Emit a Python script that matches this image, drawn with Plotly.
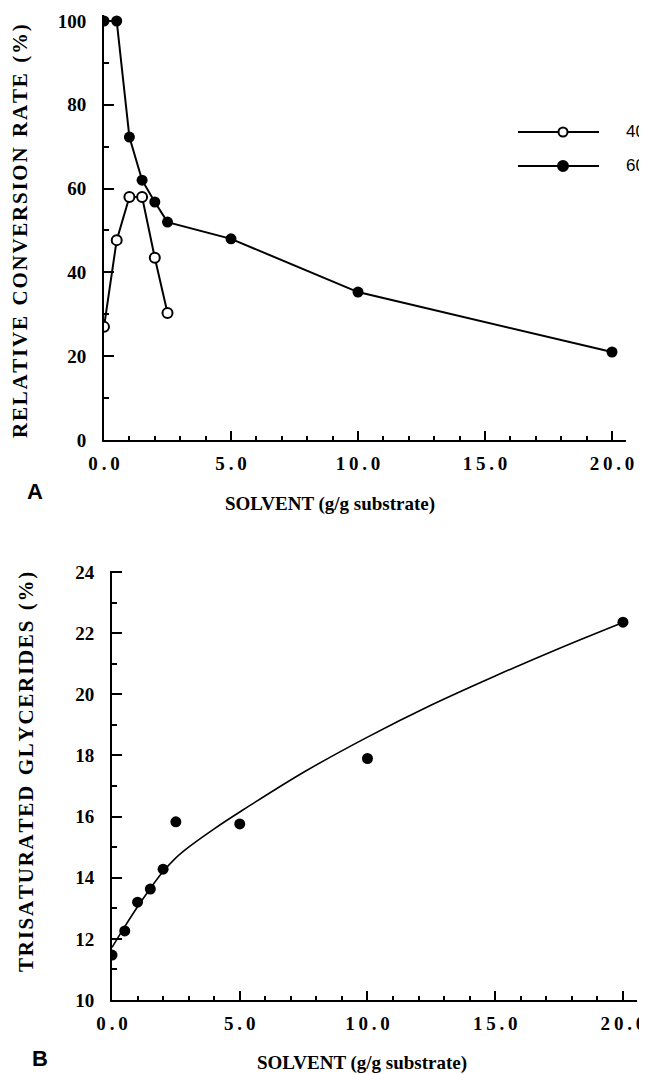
import plotly.graph_objects as go

# ---------------- data ----------------
# Panel A: relative conversion rate (%) vs solvent (g/g substrate)
a_x_40 = [0.0, 0.5, 1.0, 1.5, 2.0, 2.5]
a_y_40 = [27.0, 47.7, 58.0, 58.0, 43.5, 30.3]
a_x_60 = [0.0, 0.5, 1.0, 1.5, 2.0, 2.5, 5.0, 10.0, 20.0]
a_y_60 = [100.0, 100.0, 72.3, 62.0, 56.8, 52.0, 48.0, 35.3, 21.0]
legend_labels = ["40", "60"]

# Panel B: trisaturated glycerides (%) vs solvent
b_x = [0.0, 0.5, 1.0, 1.5, 2.0, 2.5, 5.0, 10.0, 20.0]
b_y = [11.47, 12.26, 13.2, 13.63, 14.28, 15.83, 15.76, 17.9, 22.36]
# fitted curve
b_fit_x = [0.0, 0.5, 1.0, 1.5, 2.0, 2.5, 3.0, 4.0, 5.0, 7.5, 10.0, 12.5, 15.0, 17.5, 20.0]
b_fit_y = [11.72, 12.4, 13.05, 13.65, 14.2, 14.65, 15.0, 15.6, 16.15, 17.45, 18.6, 19.65, 20.6, 21.5, 22.35]

x_tick_vals = [0, 5, 10, 15, 20]
x_tick_text = ["0.0", "5.0", "10.0", "15.0", "20.0"]
a_y_ticks = [0, 20, 40, 60, 80, 100]
b_y_ticks = [10, 12, 14, 16, 18, 20, 22, 24]

# ---------------- layout helpers ----------------
# the page body has an 8px default margin, so the figure is drawn 8px in
OFF = 8
W, H = 647 - OFF, 1074 - OFF
SERIF = "Liberation Serif"
SANS = "Liberation Sans"


def px(xp):
    return (xp - OFF) / W


def py(yp):
    return 1 - (yp - OFF) / H


def spaced(s, sep="\u2009"):
    return sep.join(list(s))


def spaced_words(words, sep="\u200a", wordsep="\u2002"):
    return wordsep.join(spaced(w, sep) for w in words)


fig = go.Figure()

# Panel A traces
fig.add_trace(go.Scatter(
    x=a_x_40, y=a_y_40, mode="lines+markers", name=legend_labels[0],
    line=dict(color="black", width=2),
    marker=dict(symbol="circle", size=10, color="white", line=dict(color="black", width=2)),
    xaxis="x", yaxis="y", showlegend=False))
fig.add_trace(go.Scatter(
    x=a_x_60, y=a_y_60, mode="lines+markers", name=legend_labels[1],
    line=dict(color="black", width=2),
    marker=dict(symbol="circle", size=11, color="black"),
    xaxis="x", yaxis="y", showlegend=False))

# Panel B traces
fig.add_trace(go.Scatter(
    x=b_fit_x, y=b_fit_y, mode="lines", line=dict(color="black", width=1.6, shape="spline", smoothing=1.0),
    xaxis="x2", yaxis="y2", showlegend=False, hoverinfo="skip"))
fig.add_trace(go.Scatter(
    x=b_x, y=b_y, mode="markers", marker=dict(symbol="circle", size=11, color="black"),
    xaxis="x2", yaxis="y2", showlegend=False))

tick_font = dict(family=SERIF, size=19, color="black", weight="bold")
x_ticktext_sp = [spaced(t) for t in x_tick_text]

common_x = dict(
    tickmode="array", tickvals=x_tick_vals, ticktext=x_ticktext_sp,
    ticks="inside", ticklen=9, tickwidth=2, tickcolor="black",
    showline=True, linewidth=2, linecolor="black", showgrid=False, zeroline=False,
    tickfont=tick_font, ticklabelstandoff=5, automargin=False,
    minor=dict(dtick=1, ticks="inside", ticklen=4, tickwidth=1.5, tickcolor="black", showgrid=False),
)
common_y = dict(
    tickmode="array",
    ticks="inside", ticklen=10, tickwidth=2, tickcolor="black",
    showline=True, linewidth=2, linecolor="black", showgrid=False, zeroline=False,
    tickfont=tick_font, ticklabelstandoff=12, automargin=False,
)

fig.update_layout(
    width=W, height=H,
    margin=dict(l=0, r=0, t=0, b=0, autoexpand=False),
    paper_bgcolor="white", plot_bgcolor="white",
    xaxis=dict(domain=[px(104), px(626)], range=[0, 20.55], anchor="y", **common_x),
    yaxis=dict(domain=[py(440), py(14.7)], range=[0, 101.5], anchor="x",
               tickvals=a_y_ticks, ticktext=[str(v) for v in a_y_ticks],
               minor=dict(tickvals=[10, 30, 50, 70, 90], ticks="inside", ticklen=5, tickwidth=1.5,
                          tickcolor="black", showgrid=False),
               **common_y),
    xaxis2=dict(domain=[px(112), px(637)], range=[0, 20.55], anchor="y2", **common_x),
    yaxis2=dict(domain=[py(1000), py(570.5)], range=[10, 24.05], anchor="x2",
                tickvals=b_y_ticks, ticktext=[str(v) for v in b_y_ticks],
                minor=dict(tickvals=[11, 13, 15, 17, 19, 21, 23], ticks="inside", ticklen=5, tickwidth=1.5,
                           tickcolor="black", showgrid=False),
                **common_y),
)

ytitle_font = dict(family=SERIF, size=21, color="black")
annotations = [
    dict(text="<b>" + spaced_words(["RELATIVE", "CONVERSION", "RATE", "(%)"]) + "</b>",
         x=px(20), y=py(231), xref="paper", yref="paper", textangle=-90,
         showarrow=False, font=ytitle_font, xanchor="center", yanchor="middle"),
    dict(text="<b>" + spaced_words(["TRISATURATED", "GLYCERIDES", "(%)"]) + "</b>",
         x=px(26), y=py(772), xref="paper", yref="paper", textangle=-90,
         showarrow=False, font=ytitle_font, xanchor="center", yanchor="middle"),
    dict(text="<b>SOLVENT (g/g substrate)</b>", x=px(330), y=py(504), xref="paper", yref="paper",
         showarrow=False, font=dict(family=SERIF, size=19, color="black"), xanchor="center", yanchor="middle"),
    dict(text="<b>SOLVENT (g/g substrate)</b>", x=px(362), y=py(1063), xref="paper", yref="paper",
         showarrow=False, font=dict(family=SERIF, size=19, color="black"), xanchor="center", yanchor="middle"),
    dict(text="<b>A</b>", x=px(35), y=py(492), xref="paper", yref="paper",
         showarrow=False, font=dict(family=SANS, size=22, color="black"), xanchor="center", yanchor="middle"),
    dict(text="<b>B</b>", x=px(40), y=py(1058), xref="paper", yref="paper",
         showarrow=False, font=dict(family=SANS, size=22, color="black"), xanchor="center", yanchor="middle"),
    dict(text=legend_labels[0], x=px(624), y=py(132), xref="paper", yref="paper",
         showarrow=False, font=dict(family=SANS, size=17, color="black"), xanchor="left", yanchor="middle"),
    dict(text=legend_labels[1], x=px(624), y=py(166), xref="paper", yref="paper",
         showarrow=False, font=dict(family=SANS, size=17, color="black"), xanchor="left", yanchor="middle"),
]
fig.update_layout(annotations=annotations)

# legend keys (drawn as layout shapes)
shapes = []
for yp, filled in [(132, False), (166, True)]:
    shapes.append(dict(type="line", xref="paper", yref="paper", x0=px(518), x1=px(599), y0=py(yp), y1=py(yp),
                       line=dict(color="black", width=2)))
    r = 4.5 if not filled else 5
    shapes.append(dict(type="circle", xref="paper", yref="paper",
                       x0=px(563 - r), x1=px(563 + r), y0=py(yp + r), y1=py(yp - r),
                       fillcolor="black" if filled else "white", line=dict(color="black", width=2)))
fig.update_layout(shapes=shapes)

fig.write_html("out.html")
